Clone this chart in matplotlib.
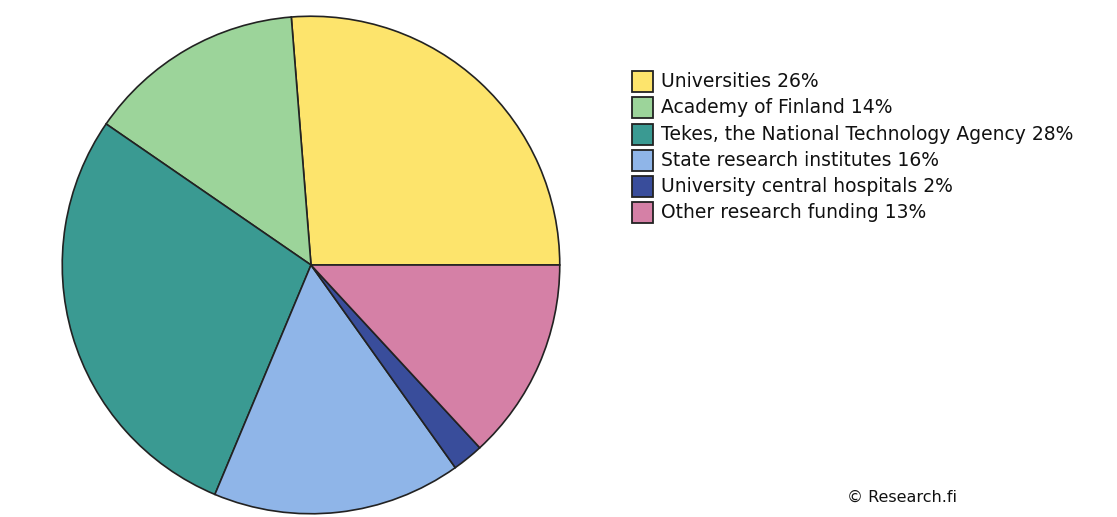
import matplotlib
matplotlib.use('Agg')
import matplotlib.pyplot as plt

labels = ['Universities', 'Academy of Finland', 'Tekes, the National Technology Agency',
          'State research institutes', 'University central hospitals', 'Other research funding']
shares = [26, 14, 28, 16, 2, 13]
colors = ['#fde46c', '#9cd49a', '#3a9a92', '#8fb5e8', '#394d9b', '#d580a6']

W, H = 1117, 517
fig = plt.figure(figsize=(W / 100, H / 100), dpi=100)

# pie centre ~ (311, 265) px, radius ~250 px
cx, cy, r = 311, 265, 250
ax = fig.add_axes([(cx - r) / W, (H - cy - r) / H, 2 * r / W, 2 * r / H])
ax.pie(shares, colors=colors, startangle=0, counterclock=True,
       wedgeprops=dict(edgecolor='#222222', linewidth=1.2))
ax.set_xlim(-1.005, 1.005)
ax.set_ylim(-1.005, 1.005)
ax.set_aspect('auto')
ax.axis('off')

# legend drawn by hand in pixel positions (top-left origin)
box_x, box_top, box_size, row_step = 632, 71, 21, 26.3
for i, (lab, s, c) in enumerate(zip(labels, shares, colors)):
    top = box_top + i * row_step
    fig.patches.append(plt.Rectangle((box_x / W, 1 - (top + box_size) / H),
                                     box_size / W, box_size / H,
                                     facecolor=c, edgecolor='#222222', linewidth=1.3,
                                     transform=fig.transFigure, figure=fig))
    fig.text(661 / W, 1 - (top + box_size / 2) / H, f'{lab} {s}%',
             fontsize=13.5, va='center', ha='left', color='#111111')

fig.text(847 / W, 1 - 497 / H, '\u00a9 Research.fi', fontsize=11.5, va='center', ha='left',
         color='#111111')

fig.savefig('out.png', dpi=100)
